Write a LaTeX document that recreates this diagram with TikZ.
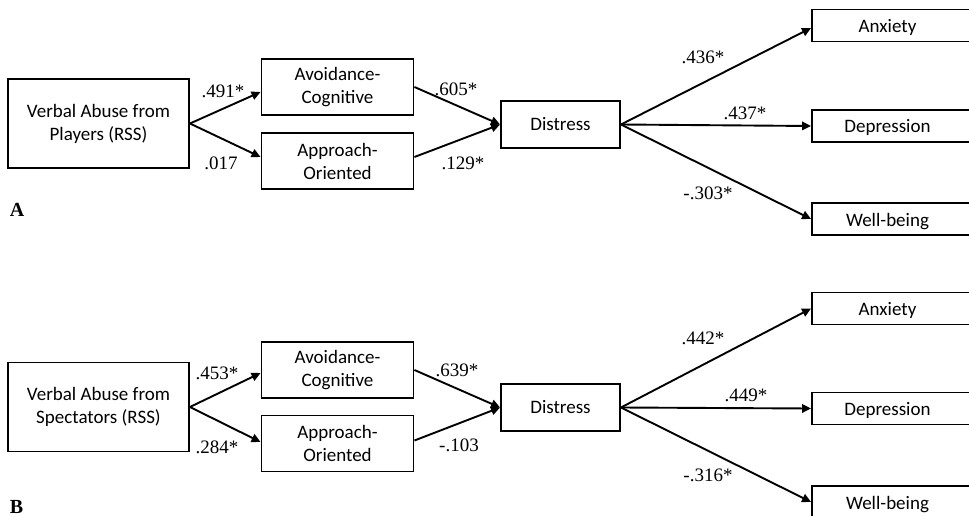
\documentclass[tikz,border=0pt]{standalone}
\usepackage{fontspec}
\setmainfont{Liberation Serif}
\newfontfamily\boxfont{Carlito}
\usetikzlibrary{arrows.meta}
\begin{document}
\begin{tikzpicture}[x=1pt,y=-1pt,
  box/.style={draw, line width=1.9pt, inner sep=0pt, align=center,
    font=\boxfont\fontsize{19}{23}\selectfont},
  bigbox/.style={box, minimum width=181, minimum height=89},
  midbox/.style={box, minimum width=152, minimum height=56},
  dbox/.style={box, minimum width=119, minimum height=47},
  rbox/.style={draw, line width=1.9pt, inner sep=0pt, minimum width=163, minimum height=32,
    text height=15pt, text depth=1pt,
    font=\boxfont\fontsize{19}{23}\selectfont, execute at end node={\hspace*{12pt}}},
  coef/.style={font=\fontsize{19}{21}\selectfont, inner sep=0pt},
  panel/.style={font=\bfseries\fontsize{20}{22}\selectfont, inner sep=0pt},
  conn/.style={line width=1.9pt, -{Triangle[length=9pt,width=8.5pt]}}]
\useasboundingbox (0,0) rectangle (969,516);
\clip (0,0) rectangle (969,516);

% ---------- Panel A ----------
\node[bigbox] (va) at (98.5,123.5) {Verbal Abuse from\\Players (RSS)};
\node[midbox] (ava) at (337.5,87) {Avoidance-\\Cognitive};
\node[midbox] (apa) at (337.5,161) {Approach-\\Oriented};
\node[dbox] (da) at (560.5,124.5) {Distress};
\node[rbox] (anxa) at (893.5,25.5) {Anxiety};
\node[rbox] (depa) at (893.5,126) {Depression};
\node[rbox] (wba) at (893.5,219) {Well-being};

\draw[conn] (va.east) -- ([yshift=-5pt]ava.west);
\draw[conn] (va.east) -- ([yshift=4pt]apa.west);
\draw[conn] (ava.east) -- (da.west);
\draw[conn] ([yshift=4pt]apa.east) -- (da.west);
\draw[conn] (da.east) -- ([yshift=-2.5pt]anxa.west);
\draw[conn] (da.east) -- (depa.west);
\draw[conn] (da.east) -- (wba.west);

\node[coef] (ca1) at (223,91) {.491*};
\node[coef] (ca2) at (221,163) {.017};
\node[coef] (ca3) at (456,89) {.605*};
\node[coef] (ca4) at (463,163) {.129*};
\node[coef] (ca5) at (703,57) {.436*};
\node[coef] (ca6) at (745,113) {.437*};
\node[coef] (ca7) at (708,193) {-.303*};
\node[panel] (pa) at (17,210) {A};

% ---------- Panel B ----------
\node[bigbox] (vb) at (98.5,407) {Verbal Abuse from\\Spectators (RSS)};
\node[midbox] (avb) at (337.5,370) {Avoidance-\\Cognitive};
\node[midbox] (apb) at (337.5,443.5) {Approach-\\Oriented};
\node[dbox] (db) at (560.5,407.5) {Distress};
\node[rbox] (anxb) at (893.5,308.5) {Anxiety};
\node[rbox] (depb) at (893.5,408.5) {Depression};
\node[rbox] (wbb) at (893.5,502) {Well-being};

\draw[conn] (vb.east) -- ([yshift=-3pt]avb.west);
\draw[conn] (vb.east) -- ([yshift=1.5pt]apb.west);
\draw[conn] (avb.east) -- (db.west);
\draw[conn] ([yshift=3pt]apb.east) -- (db.west);
\draw[conn] (db.east) -- (anxb.west);
\draw[conn] (db.east) -- (depb.west);
\draw[conn] (db.east) -- (wbb.west);

\node[coef] (cb1) at (217,373) {.453*};
\node[coef] (cb2) at (217,447) {.284*};
\node[coef] (cb3) at (457,370) {.639*};
\node[coef] (cb4) at (459,445) {-.103};
\node[coef] (cb5) at (703,338) {.442*};
\node[coef] (cb6) at (746,395) {.449*};
\node[coef] (cb7) at (708,475) {-.316*};
\node[panel] (pb) at (16.5,507) {B};
\end{tikzpicture}
\end{document}
